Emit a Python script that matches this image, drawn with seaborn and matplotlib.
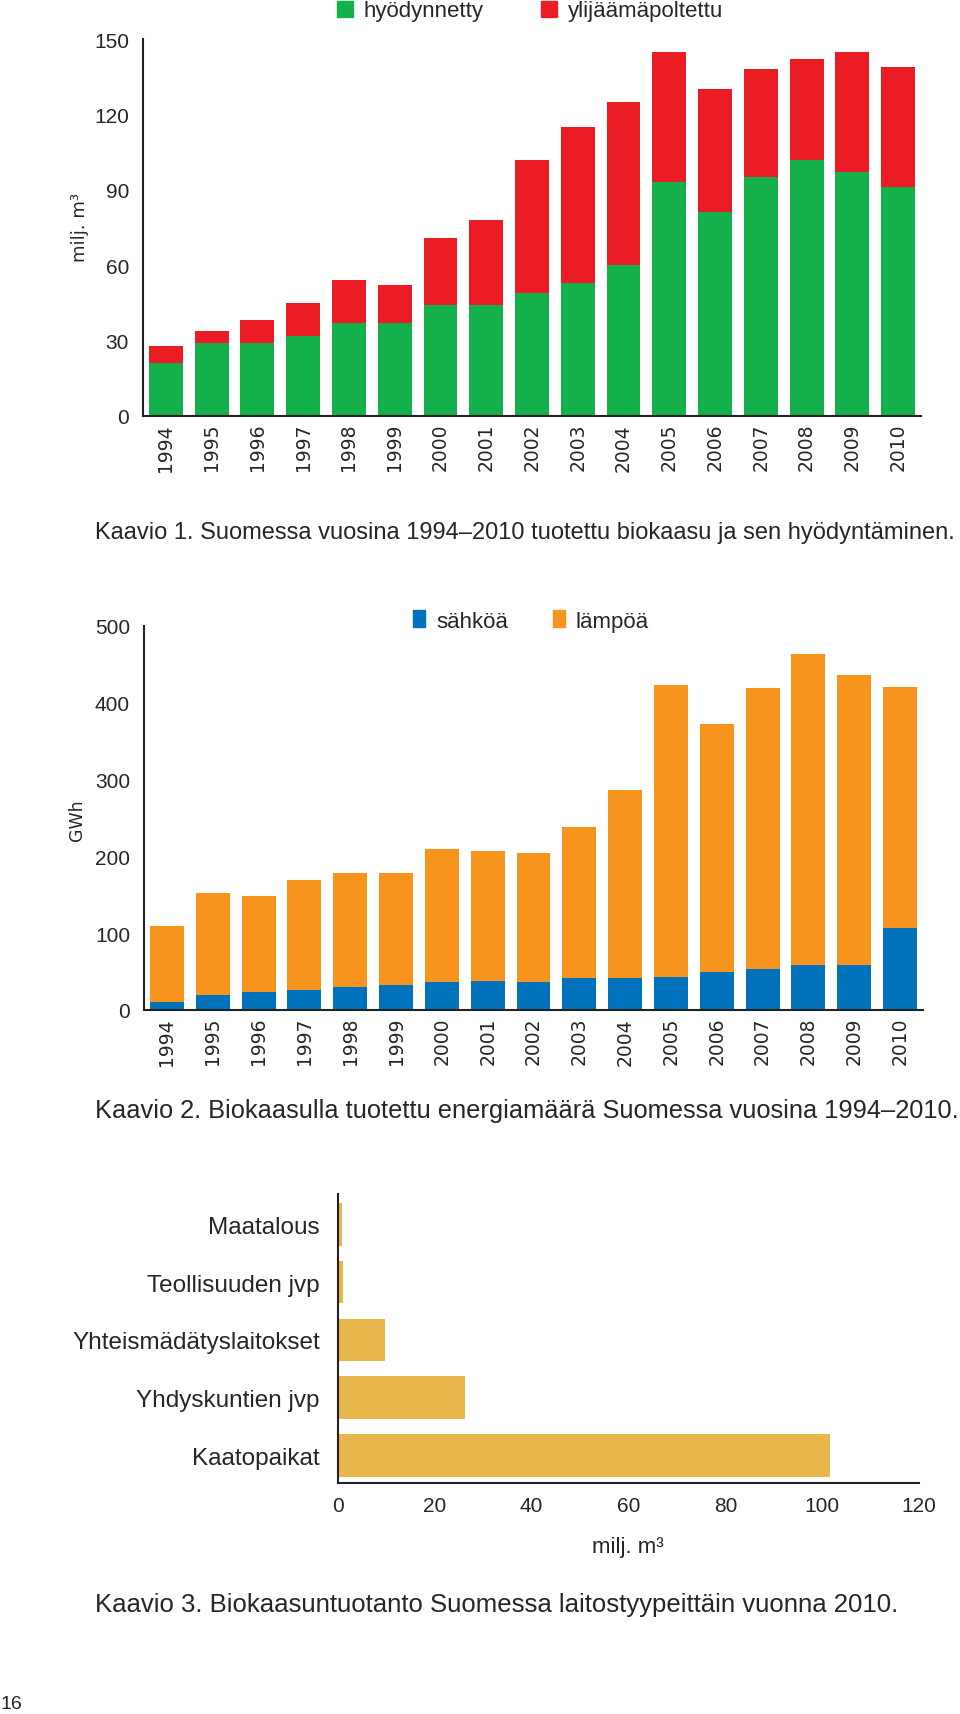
import numpy as np
import matplotlib
matplotlib.use('Agg')
import matplotlib.pyplot as plt
import seaborn as sns
from matplotlib.patches import Patch

# --- data ---
years = [str(y) for y in range(1994, 2011)]

# Kaavio 1: milj. m3
hyodynnetty = [21, 29, 29, 32, 37, 37, 44, 44, 49, 53, 60, 93, 81, 95, 102, 97, 91]
kaasu_yhteensa = [28, 34, 38, 45, 54, 52, 71, 78, 102, 115, 125, 145, 130, 138, 142, 145, 139]

# Kaavio 2: GWh
sahkoa = [11, 20, 24, 26, 30, 33, 36, 38, 37, 42, 42, 43, 49, 53, 58, 59, 107]
energia_yhteensa = [110, 152, 149, 169, 179, 179, 210, 207, 205, 238, 287, 423, 372, 419, 464, 436, 421]

# Kaavio 3: milj. m3 vuonna 2010
laitostyypit = ['Maatalous', 'Teollisuuden jvp', 'Yhteismädätyslaitokset',
                'Yhdyskuntien jvp', 'Kaatopaikat']
tuotanto_2010 = [0.9, 1.0, 9.7, 26.3, 101.7]

C_GREEN = '#13b04b'
C_RED = '#ec1c24'
C_BLUE = '#0072bc'
C_ORANGE = '#f7941e'
C_GOLD = '#e8b74b'

W, H = 960, 1715
sns.set_style('white')
plt.rcParams['font.family'] = ['Liberation Sans', 'DejaVu Sans']

fig = plt.figure(figsize=(W / 100, H / 100), dpi=100)

BAR = dict(saturation=1, width=0.74, errorbar=None, linewidth=0, edgecolor='none')


def rect(left, right, top, bottom):
    """pixel box -> figure fraction"""
    return [left / W, 1 - bottom / H, (right - left) / W, (bottom - top) / H]


def style_year_axes(ax, ymax, step):
    for s in ['top', 'right']:
        ax.spines[s].set_visible(False)
    for s in ['left', 'bottom']:
        ax.spines[s].set_linewidth(1.5)
        ax.spines[s].set_color('#222222')
    ax.set_xlim(-0.5, 16.5)
    ax.set_ylim(0, ymax)
    ax.set_yticks(np.arange(0, ymax + 1, step))
    ax.tick_params(axis='y', direction='in', length=13, width=1.5,
                   pad=10, labelsize=15, color='#222222')
    ax.set_xticks(range(len(years)))
    ax.set_xticklabels(years, rotation=90, fontfamily='DejaVu Sans', fontsize=13.5)
    ax.tick_params(axis='x', which='major', length=0, pad=5)
    ax.set_xticks(np.arange(0.5, 17, 1), minor=True)
    ax.tick_params(axis='x', which='minor', direction='in', length=7, width=1.5,
                   color='#222222')
    ax.set_xlabel('')


# --- Kaavio 1 ---
ax1 = fig.add_axes(rect(143, 921, 40, 417))
sns.barplot(x=years, y=kaasu_yhteensa, color=C_RED, ax=ax1, **BAR)
sns.barplot(x=years, y=hyodynnetty, color=C_GREEN, ax=ax1, **BAR)
style_year_axes(ax1, 150, 30)
ax1.set_ylabel('milj. m³', fontfamily='DejaVu Sans', fontsize=13)
ax1.yaxis.set_label_coords((89 - 143) / 778, (417 - 227) / 377)
ax1.legend(handles=[Patch(color=C_GREEN, label='hyödynnetty'),
                    Patch(color=C_RED, label='ylijäämäpoltettu')],
           ncol=2, frameon=False, fontsize=16, handlelength=0.7, handleheight=0.75,
           handletextpad=0.5, columnspacing=2.6, borderpad=0, borderaxespad=0,
           loc='center left', bbox_to_anchor=(337 / W, 1 - 12 / H),
           bbox_transform=fig.transFigure)

fig.text(95 / W, 1 - 533 / H,
         'Kaavio 1. Suomessa vuosina 1994–2010 tuotettu biokaasu ja sen hyödyntäminen.',
         fontsize=17, va='center', ha='left')

# --- Kaavio 2 ---
ax2 = fig.add_axes(rect(144, 923, 627, 1011))
sns.barplot(x=years, y=energia_yhteensa, color=C_ORANGE, ax=ax2, **BAR)
sns.barplot(x=years, y=sahkoa, color=C_BLUE, ax=ax2, **BAR)
style_year_axes(ax2, 500, 100)
ax2.set_ylabel('GWh', fontfamily='DejaVu Sans', fontsize=12.5)
ax2.yaxis.set_label_coords((86 - 144) / 779, (1011 - 820) / 384)
ax2.legend(handles=[Patch(color=C_BLUE, label='sähköä'),
                    Patch(color=C_ORANGE, label='lämpöä')],
           ncol=2, frameon=False, fontsize=16, handlelength=0.55, handleheight=0.8,
           handletextpad=0.5, columnspacing=2.0, borderpad=0, borderaxespad=0,
           loc='center left', bbox_to_anchor=(413 / W, 1 - 622 / H),
           bbox_transform=fig.transFigure)

fig.text(95 / W, 1 - 1111 / H,
         'Kaavio 2. Biokaasulla tuotettu energiamäärä Suomessa vuosina 1994–2010.',
         fontsize=18.3, va='center', ha='left')

# --- Kaavio 3 ---
ax3 = fig.add_axes(rect(338, 919, 1195, 1484))
sns.barplot(x=tuotanto_2010, y=laitostyypit, orient='h', color=C_GOLD, ax=ax3, **BAR)
for s in ['top', 'right']:
    ax3.spines[s].set_visible(False)
for s in ['left', 'bottom']:
    ax3.spines[s].set_linewidth(1.5)
    ax3.spines[s].set_color('#222222')
ax3.set_xlim(0, 120)
ax3.set_ylim(4.47, -0.52)
ax3.set_xticks(range(0, 121, 20))
ax3.tick_params(axis='x', direction='in', length=5, width=1.5, pad=9,
                labelsize=15, color='#222222')
ax3.tick_params(axis='y', length=0, pad=13, labelsize=17.5)
ax3.set_xlabel('')
ax3.set_ylabel('')
fig.text(628 / W, 1 - 1547 / H, 'milj. m³', fontsize=16, ha='center', va='center')

fig.text(95 / W, 1 - 1605 / H,
         'Kaavio 3. Biokaasuntuotanto Suomessa laitostyypeittäin vuonna 2010.',
         fontsize=18.5, va='center', ha='left')

fig.text(0 / W, 1 - 1705 / H, '16', fontsize=14, va='center', ha='left')

fig.savefig('out.png', dpi=100)
